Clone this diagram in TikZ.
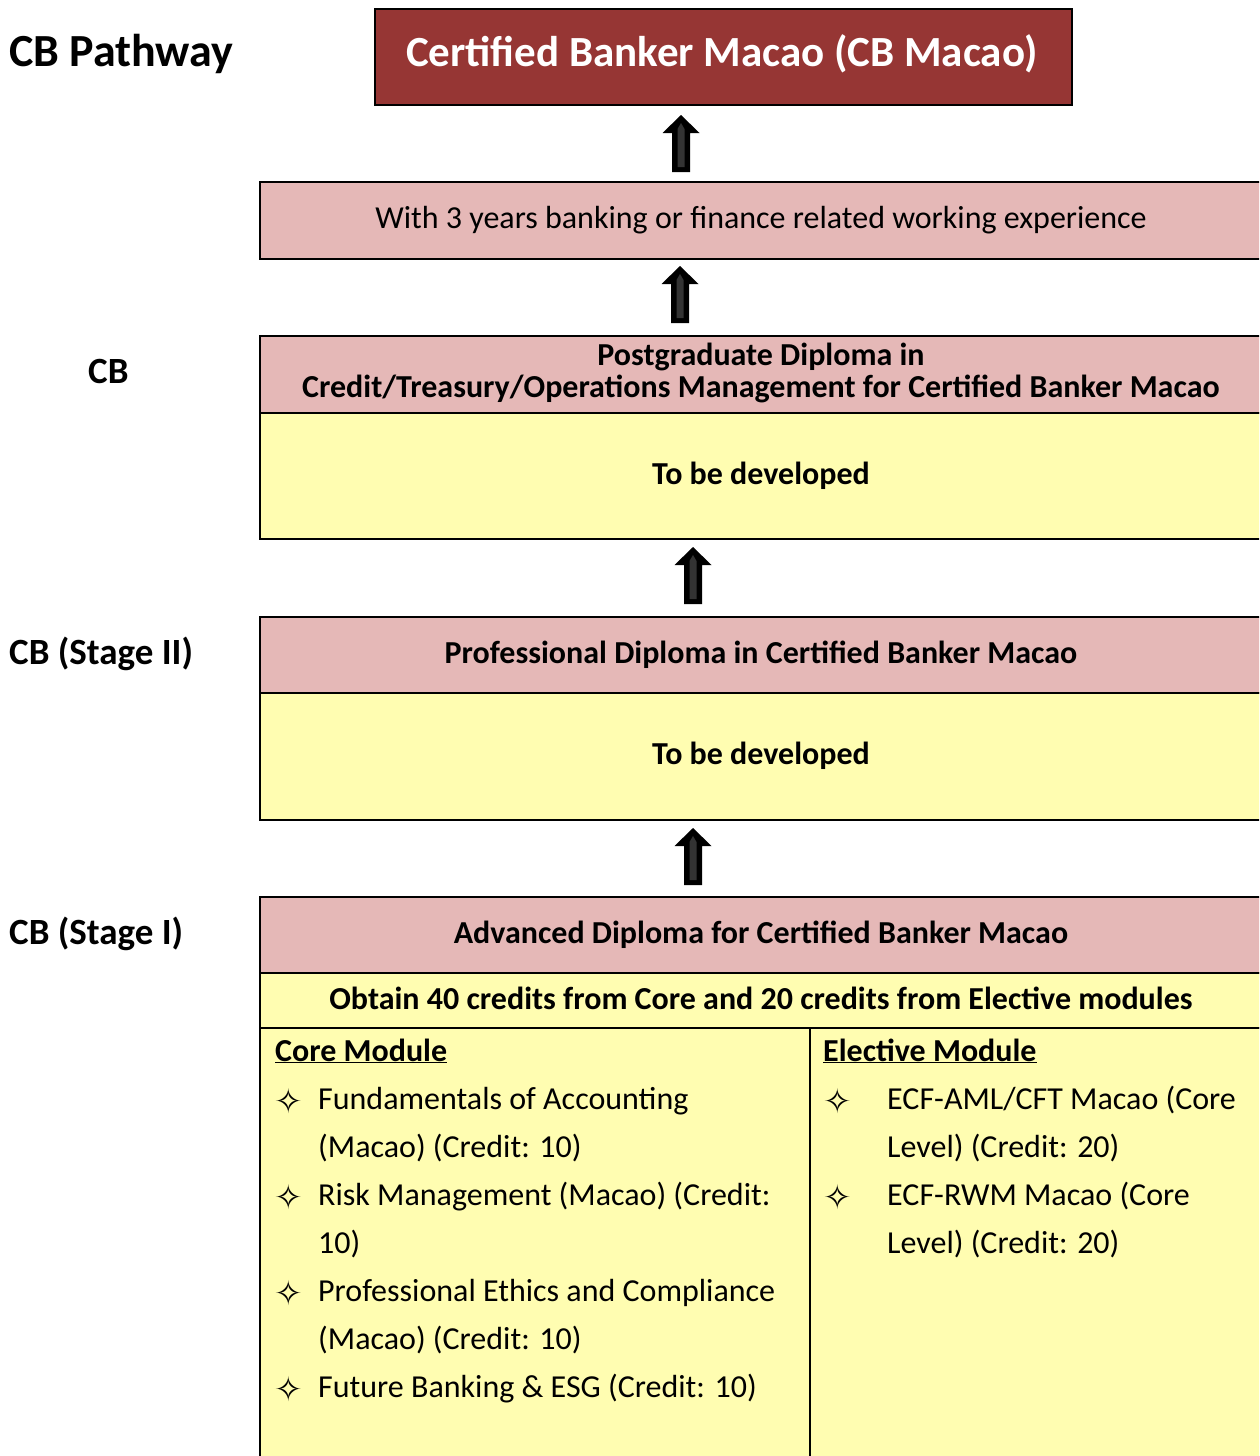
\documentclass[tikz,border=0pt]{standalone}
\usepackage{fontspec}
\setmainfont{Carlito}
\newfontfamily\symfont{DejaVu Sans}
\definecolor{darkred}{HTML}{963634}
\definecolor{pinkfill}{HTML}{E5B8B7}
\definecolor{yellowfill}{HTML}{FFFDB1}
\tikzset{
  box/.style={draw=black, line width=2pt, anchor=north west, inner sep=0pt},
  txt/.style={inner sep=0pt, text height=1.6em, text depth=0pt},
  body/.style={txt, anchor=west, font=\fontsize{32}{38}\selectfont},
  head/.style={txt, font=\fontsize{32}{38}\selectfont\bfseries},
  side/.style={txt, anchor=west, font=\fontsize{37}{42}\selectfont\bfseries},
  star/.style={inner sep=0pt, anchor=center, font=\symfont\fontsize{34}{38}\selectfont},
  uparrow/.pic={
    \fill[black] (-9,57) -- (-9,18) -- (-18.5,18) -- (0,0) -- (18.5,18) -- (9,18) -- (9,57) -- cycle;
    \fill[black!80] (-3.5,52) -- (-3.5,14) -- (0,8) -- (3.5,14) -- (3.5,52) -- cycle;
  }
}
\begin{document}
\begin{tikzpicture}[x=1pt,y=-1pt]
\useasboundingbox (0,0) rectangle (1259,1456);
\clip (0,0) rectangle (1259,1456);
\fill[white] (0,0) rectangle (1259,1456);

% top title box
\node[box, fill=darkred, minimum width=697pt, minimum height=96pt] (top) at (374,8) {};
\node[txt, text=white, font=\fontsize{43}{48}\selectfont\bfseries] (toptxt) at (722,58) {Certified Banker Macao (CB Macao)};

% experience box
\node[box, fill=pinkfill, minimum width=1004pt, minimum height=77pt] (exp) at (259,181) {};
\node[txt, font=\fontsize{32}{38}\selectfont] (exptxt) at (761,220) {With 3 years banking or finance related working experience};

% CB box
\node[box, fill=pinkfill, minimum width=1004pt, minimum height=77pt] (cbh) at (259,335) {};
\node[box, fill=yellowfill, minimum width=1004pt, minimum height=126pt] (cbb) at (259,412) {};
\node[head] (cbt1) at (761,357) {Postgraduate Diploma in};
\node[head] (cbt2) at (761,389) {Credit/Treasury/Operations Management for Certified Banker Macao};
\node[head] (cbdev) at (761,476) {To be developed};

% Stage II
\node[box, fill=pinkfill, minimum width=1004pt, minimum height=76pt] (s2h) at (259,616) {};
\node[box, fill=yellowfill, minimum width=1004pt, minimum height=127pt] (s2b) at (259,692) {};
\node[head] (s2t) at (761,655) {Professional Diploma in Certified Banker Macao};
\node[head] (s2dev) at (761,756) {To be developed};

% Stage I
\node[box, fill=pinkfill, minimum width=1004pt, minimum height=76pt] (s1h) at (259,896) {};
\node[box, fill=yellowfill, minimum width=1004pt, minimum height=55pt] (s1o) at (259,972) {};
\node[box, fill=yellowfill, minimum width=550pt, minimum height=450pt] (core) at (259,1027) {};
\node[box, fill=yellowfill, minimum width=454pt, minimum height=450pt] (elec) at (809,1027) {};
\node[head] (s1t) at (761,935) {Advanced Diploma for Certified Banker Macao};
\node[head] (s1obt) at (761,1001) {Obtain 40 credits from Core and 20 credits from Elective modules};

% Core module list
\node[head, anchor=west] (coreh) at (275,1053) {\underline{Core Module}};
\node[star] (c1s) at (289,1101) {✧};
\node[body] (c1a) at (318,1101) {Fundamentals of Accounting};
\node[body] (c1b) at (318,1149) {(Macao) (Credit: 10)};
\node[star] (c2s) at (289,1197) {✧};
\node[body] (c2a) at (318,1197) {Risk Management (Macao) (Credit:};
\node[body] (c2b) at (318,1245) {10)};
\node[star] (c3s) at (289,1293) {✧};
\node[body] (c3a) at (318,1293) {Professional Ethics and Compliance};
\node[body] (c3b) at (318,1341) {(Macao) (Credit: 10)};
\node[star] (c4s) at (289,1389) {✧};
\node[body] (c4a) at (318,1389) {Future Banking \& ESG (Credit: 10)};

% Elective module list
\node[head, anchor=west] (elech) at (823,1053) {\underline{Elective Module}};
\node[star] (e1s) at (838,1101) {✧};
\node[body] (e1a) at (887,1101) {ECF-AML/CFT Macao (Core};
\node[body] (e1b) at (887,1149) {Level) (Credit: 20)};
\node[star] (e2s) at (838,1197) {✧};
\node[body] (e2a) at (887,1197) {ECF-RWM Macao (Core};
\node[body] (e2b) at (887,1245) {Level) (Credit: 20)};

% side labels
\node[side, font=\fontsize{46}{52}\selectfont\bfseries] (lpath) at (9,58) {CB Pathway};
\node[side] (lcb) at (88,375) {CB};
\node[side] (ls2) at (9,656) {CB (Stage II)};
\node[side] (ls1) at (9,936) {CB (Stage I)};

% block arrows
\pic at (681,115) {uparrow};
\pic at (680,266) {uparrow};
\pic at (693,547) {uparrow};
\pic at (693,828) {uparrow};
\end{tikzpicture}
\end{document}
